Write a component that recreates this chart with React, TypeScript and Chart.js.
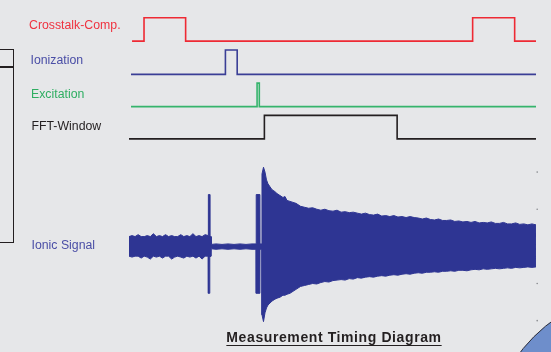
import React, { useEffect, useRef } from "react";
import { Chart, registerables } from "chart.js";

Chart.register(...registerables);

const FONT = '"Liberation Sans", Arial, Helvetica, sans-serif';

// ---- Digital control signals: transition times (µs) and logic levels ----
const CROSSTALK_T = [0.5, 3.45, 13.7, 84.4, 94.75, 100];
const CROSSTALK_LEVEL = [0, 1, 0, 1, 0, 0];

const IONIZATION_T = [0.25, 23.5, 26.4, 100];
const IONIZATION_LEVEL = [0, 1, 0, 0];

const EXCITATION_T = [0.25, 31.3, 31.85, 100];
const EXCITATION_LEVEL = [0, 1, 0, 0];

const FFT_T = [-0.25, 33.1, 65.8, 100];
const FFT_LEVEL = [0, 1, 0, 0];

// ---- Ionic signal envelope (upper / lower amplitude, mV) ----
const ION_T = [
  -0.25, 0.5, 1.25, 2.0, 2.75, 3.5, 4.25, 5.0, 5.75, 6.5, 7.25, 8.0, 8.75, 9.5, 10.25, 11.0, 11.75, 12.5, 13.25,
  14.0, 14.75, 15.5, 16.25, 17.0, 17.75, 18.5, 19.28,
  19.3, 19.63, 19.65, 19.95,
  20.02, 21.18, 22.66, 24.14, 25.62, 27.09, 28.57, 30.05, 31.07,
  31.09, 32.0, 32.02, 32.49,
  32.51, 32.88, 33.25, 33.62, 33.99, 34.48, 34.98, 35.71, 36.21, 36.95, 37.68, 38.18, 38.67, 39.41, 40.15, 40.89,
  42, 43, 44, 45, 46, 47, 48, 49, 50, 51,
  52, 53, 54, 55, 56, 57, 58, 59, 60, 61,
  62, 63, 64, 65, 66, 67, 68, 69, 70, 71,
  72, 73, 74, 75, 76, 77, 78, 79, 80, 81,
  82, 83, 84, 85, 86, 87, 88, 89, 90, 91,
  92, 93, 94, 95, 96, 97, 98, 99, 100,
];
const ION_HI = [
  10, 11, 10, 12, 10, 10, 11, 10, 13, 10, 11, 10, 12, 10, 11, 10, 10, 12, 10, 11, 10, 13, 10, 11, 10, 12, 11,
  53, 53, 11, 10,
  2, 2.5, 2, 2.5, 2, 2.5, 2, 2.5, 2.5,
  53, 53, 2.5, 2.5,
  74, 81, 76, 68, 64, 61, 58, 56, 54, 52, 50, 51, 47, 46, 45, 44,
  41, 40, 39, 39.5, 38, 37, 38, 36.5, 36, 37,
  35, 35.5, 34.5, 35, 34, 33, 34, 32.5, 32, 33,
  31, 31.5, 30.5, 31.5, 30, 30.5, 29.5, 30.5, 29.5, 29,
  28, 29, 27.5, 27, 28, 26.5, 26.5, 27, 25.5, 26,
  25, 25.5, 24.5, 25.5, 24, 24.5, 24, 25, 23.5, 23.5,
  24.5, 23, 23, 24, 22.5, 23, 22, 23, 22,
];
const ION_LO = [
  -10, -11, -10, -10, -12, -10, -11, -13, -10, -11, -10, -12, -10, -10, -13, -11, -10, -11, -12, -10, -11, -10,
  -12, -10, -13, -10, -10,
  -48, -48, -11, -10,
  -2.5, -3, -2.5, -3, -2.5, -3, -2.5, -3, -3,
  -48, -48, -3, -3,
  -70, -77, -68, -63, -60, -58, -56, -54, -53, -52, -50, -50, -49, -48, -46, -44,
  -41, -40, -39, -38, -38.5, -37, -36, -36.5, -35, -34.5,
  -34, -34.5, -33, -33.5, -32, -32.5, -31.5, -31, -31.5, -30.5,
  -30, -30.5, -29.5, -29, -29.5, -28.5, -28, -28.5, -27.5, -27,
  -27.5, -26.5, -26.5, -26, -26.5, -25.5, -25.5, -25, -25.5, -24.5,
  -24.5, -25, -24, -23.5, -24, -23, -23.5, -23, -22.5, -23,
  -22.5, -22, -22.5, -21.5, -22, -21.5, -21, -21.5, -21,
];
const ION_TICKS = [76, 38, -38, -76];
const ION_TICK_T = 100.3;

// ---- Layout (lane placement on the vertical scale) ----
const LANES = {
  crosstalk: { base: 38, amp: 24 },
  ionization: { base: 72, amp: 25 },
  excitation: { base: 105, amp: 24 },
  fft: { base: 138, amp: 24 },
  ionic: { base: 248, gain: 1 },
};

const COLORS = {
  red: "#ee2a34",
  blue: "#3a3e96",
  green: "#35b46c",
  black: "#231f20",
  ionic: "#2e3593",
};

function digital(ts: number[], lv: number[], lane: { base: number; amp: number }) {
  return ts.map((t, i) => ({ x: t, y: lane.base - lv[i] * lane.amp }));
}

export default function App() {
  const ref = useRef<HTMLCanvasElement>(null);

  useEffect(() => {
    const lineDs = (data: any[], color: string) => ({
      data,
      borderColor: color,
      borderWidth: 1.6,
      stepped: true as const,
      pointRadius: 0,
      fill: false,
    });
    const ion = LANES.ionic;
    const chart = new Chart(ref.current!, {
      type: "line",
      data: {
        datasets: [
          lineDs(digital(CROSSTALK_T, CROSSTALK_LEVEL, LANES.crosstalk), COLORS.red),
          lineDs(digital(IONIZATION_T, IONIZATION_LEVEL, LANES.ionization), COLORS.blue),
          lineDs(digital(EXCITATION_T, EXCITATION_LEVEL, LANES.excitation), COLORS.green),
          lineDs(digital(FFT_T, FFT_LEVEL, LANES.fft), COLORS.black),
          {
            data: ION_T.map((t, i) => ({ x: t, y: ion.base - ION_HI[i] * ion.gain })),
            borderColor: COLORS.ionic,
            backgroundColor: COLORS.ionic,
            borderWidth: 1,
            pointRadius: 0,
            fill: "+1",
          },
          {
            data: ION_T.map((t, i) => ({ x: t, y: ion.base - ION_LO[i] * ion.gain })),
            borderColor: COLORS.ionic,
            backgroundColor: COLORS.ionic,
            borderWidth: 1,
            pointRadius: 0,
            fill: false,
          },
          {
            data: ION_TICKS.map((v) => ({ x: ION_TICK_T, y: ion.base - v * ion.gain })),
            showLine: false,
            pointRadius: 0.8,
            pointBorderWidth: 0,
            pointBackgroundColor: "#8a8c90",
            clip: false,
          } as any,
        ],
      },
      options: {
        responsive: false,
        maintainAspectRatio: false,
        devicePixelRatio: 1,
        animation: false,
        events: [],
        layout: { padding: { left: 129, right: 13, top: 0, bottom: 0 } },
        scales: {
          x: { type: "linear", min: -0.25, max: 100.5, display: false },
          y: { type: "linear", min: 0, max: 352, reverse: true, display: false },
        },
        plugins: {
          legend: { display: false },
          tooltip: { enabled: false },
          title: { display: false },
        },
      },
    });
    return () => chart.destroy();
  }, []);

  const label = (text: string, color: string, left: number, top: number) => (
    <div
      style={{
        position: "absolute",
        left,
        top,
        fontSize: 12.3,
        lineHeight: "14px",
        color,
        whiteSpace: "nowrap",
      }}
    >
      {text}
    </div>
  );

  return (
    <div
      style={{
        position: "fixed",
        left: 0,
        top: 0,
        width: 551,
        height: 352,
        background: "#e6e7e9",
        overflow: "hidden",
        fontFamily: FONT,
      }}
    >
      <div
        style={{
          position: "absolute",
          left: 486,
          top: 289,
          width: 324,
          height: 324,
          borderRadius: "50%",
          background: "#6e8ecb",
          border: "1.5px solid #2b2d3a",
          boxSizing: "border-box",
        }}
      />
      <div
        style={{
          position: "absolute",
          left: -3,
          top: 48.5,
          width: 16.5,
          height: 194,
          border: "1.5px solid #231f20",
          boxSizing: "border-box",
        }}
      />
      <div
        style={{ position: "absolute", left: 0, top: 66, width: 13, height: 1.5, background: "#231f20" }}
      />
      <canvas
        ref={ref}
        width={551}
        height={352}
        style={{ position: "absolute", left: 0, top: 0, width: 551, height: 352 }}
      />
      {label("Crosstalk-Comp.", "#ef3340", 29, 17.8)}
      {label("Ionization", "#4a4ea6", 30.5, 52.8)}
      {label("Excitation", "#2fae62", 31, 86.5)}
      {label("FFT-Window", "#231f20", 31.5, 119.2)}
      {label("Ionic Signal", "#4a4ea6", 31.5, 238.2)}
      <div
        style={{
          position: "absolute",
          left: 134,
          top: 329.2,
          width: 400,
          textAlign: "center",
          fontSize: 14,
          lineHeight: "16px",
          fontWeight: "bold",
          letterSpacing: "0.6px",
          color: "#231f20",
          whiteSpace: "nowrap",
        }}
      >
        <span style={{ textDecoration: "underline", textUnderlineOffset: "3px" }}>
          Measurement Timing Diagram
        </span>
      </div>
    </div>
  );
}
